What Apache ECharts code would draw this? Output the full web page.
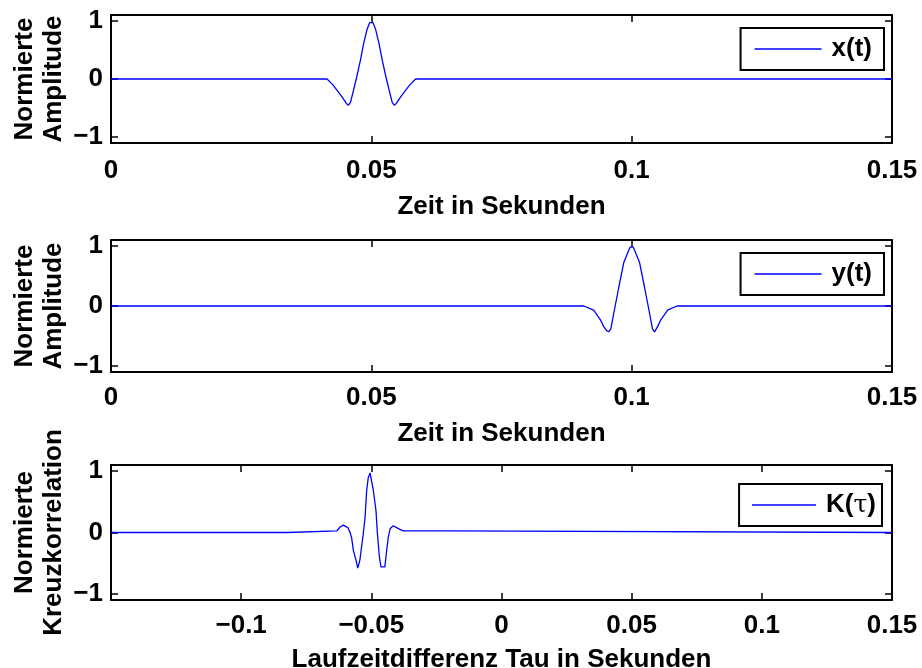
<!DOCTYPE html>
<html>
<head>
<meta charset="utf-8">
<script src="https://cdn.jsdelivr.net/npm/echarts@6/dist/echarts.min.js"></script>
<style>html,body{margin:0;padding:0;background:#fff;}#c{width:922px;height:668px;}</style>
</head>
<body>
<div id="c"></div>
<script>
// ---- data ----
const xTimes = [0, 0.0415, 0.0427, 0.0444, 0.0452, 0.0456, 0.0460, 0.0465, 0.0471, 0.0479, 0.0485, 0.0492, 0.0497, 0.0500, 0.0503, 0.0508, 0.0515, 0.0521, 0.0529, 0.0535, 0.0540, 0.0544, 0.0548, 0.0556, 0.0573, 0.0585, 0.15];
const xValues = [0, 0, -0.11, -0.31, -0.42, -0.45, -0.40, -0.22, 0, 0.32, 0.60, 0.86, 0.97, 1.0, 0.97, 0.86, 0.60, 0.32, 0, -0.22, -0.40, -0.45, -0.42, -0.31, -0.11, 0, 0];

const yTimes = [0, 0.0908, 0.0927, 0.0940, 0.0946, 0.0952, 0.0956, 0.0960, 0.0965, 0.0975, 0.0985, 0.0994, 0.0997, 0.1000, 0.1003, 0.1006, 0.1015, 0.1025, 0.1035, 0.1040, 0.1044, 0.1050, 0.1056, 0.1069, 0.1087, 0.15];
const yValues = [0, 0, -0.07, -0.23, -0.34, -0.41, -0.43, -0.38, -0.15, 0.30, 0.73, 0.92, 0.98, 1.0, 0.98, 0.92, 0.73, 0.30, -0.15, -0.38, -0.43, -0.34, -0.23, -0.07, 0, 0];

const kLags = [-0.15, -0.0821, -0.0820, -0.0633, -0.0620, -0.0608, -0.0590, -0.0582, -0.0576, -0.0569, -0.0559, -0.0552, -0.0544, -0.0531, -0.0524, -0.0518, -0.0512, -0.0505, -0.0501, -0.0492, -0.0482, -0.0477, -0.0469, -0.0463, -0.0448, -0.0441, -0.0435, -0.0428, -0.0416, -0.0403, -0.0390, -0.0377, -0.0199, -0.0198, 0.15];
const kValues = [0, 0, 0.025, 0.025, 0.09, 0.12, 0.08, 0.0, -0.08, -0.29, -0.45, -0.58, -0.45, -0.02, 0.25, 0.68, 0.89, 0.97, 1.0, 0.68, 0.35, 0.0, -0.40, -0.56, -0.56, -0.29, -0.08, 0.06, 0.11, 0.08, 0.05, 0.025, 0.025, 0, 0];

const timeTicks = [0, 0.05, 0.1, 0.15];
const lagTicks = [-0.15, -0.1, -0.05, 0, 0.05, 0.1, 0.15];
const lagLabels = [-0.1, -0.05, 0, 0.05, 0.1, 0.15];
const ampTicks = [-1, 0, 1];
const seriesNames = ['x(t)', 'y(t)', 'K(\u03c4)'];
const xAxisNames = ['Zeit in Sekunden', 'Zeit in Sekunden', 'Laufzeitdifferenz Tau in Sekunden'];
const yAxisNames = ['Normierte\nAmplitude', 'Normierte\nAmplitude', 'Normierte\nKreuzkorrelation'];

// ---- layout ----
const FONT = '"Liberation Sans", Arial, Helvetica, sans-serif';
const FS = 26;
const grids = [
  {left: 111, right: 30, top: 15, height: 128, outerBoundsMode: 'none', containLabel: false},
  {left: 111, right: 30, top: 240, height: 132, outerBoundsMode: 'none', containLabel: false},
  {left: 111, right: 30, top: 465, height: 135, outerBoundsMode: 'none', containLabel: false}
];
const legendTops = [28, 253, 484];
const legendRights = [38, 38, 40];
const legendItemWidths = [67, 67, 64];
const legendPads = [[8, 12, 8, 14], [8, 12, 8, 14], [8, 6, 8, 13]];
const xLabelMargins = [15, 13, 13];
const xNameGaps = [51, 49, 47];
const fmt = v => String(+(+v).toFixed(4)).replace('-', '\u2212');

const xAxes = [], yAxes = [], series = [], legends = [];
const ranges = [[0, 0.15, timeTicks, timeTicks], [0, 0.15, timeTicks, timeTicks], [-0.15, 0.15, lagTicks, lagLabels]];
const datas = [[xTimes, xValues], [yTimes, yValues], [kLags, kValues]];

for (let i = 0; i < 3; i++) {
  const [mn, mx, ticks, labels] = ranges[i];
  const lineSt = {color: '#000', width: 2};
  const tickSt = {color: '#000', width: 1.5};
  xAxes.push({
    type: 'value', gridIndex: i, min: mn, max: mx, position: 'bottom',
    axisLine: {show: true, onZero: false, lineStyle: lineSt},
    axisTick: {show: true, inside: true, length: 7, customValues: ticks, lineStyle: tickSt},
    axisLabel: {customValues: labels, formatter: fmt, color: '#000', fontSize: FS, fontWeight: 'bold', fontFamily: FONT, margin: xLabelMargins[i]},
    splitLine: {show: false},
    name: xAxisNames[i], nameLocation: 'middle', nameGap: xNameGaps[i], nameMoveOverlap: false,
    nameTextStyle: {color: '#000', fontSize: FS, fontWeight: 'bold', fontFamily: FONT}
  });
  xAxes.push({
    type: 'value', gridIndex: i, min: mn, max: mx, position: 'top',
    axisLine: {show: true, onZero: false, lineStyle: lineSt},
    axisTick: {show: true, inside: true, length: 7, customValues: ticks, lineStyle: tickSt},
    axisLabel: {show: false}, splitLine: {show: false}
  });
  yAxes.push({
    type: 'value', gridIndex: i, min: -1.1, max: 1.1, position: 'left',
    axisLine: {show: true, onZero: false, lineStyle: lineSt},
    axisTick: {show: true, inside: true, length: 7, customValues: ampTicks, lineStyle: tickSt},
    axisLabel: {customValues: ampTicks, formatter: fmt, color: '#000', fontSize: FS, fontWeight: 'bold', fontFamily: FONT, margin: 8},
    splitLine: {show: false},
    name: yAxisNames[i], nameLocation: 'middle', nameGap: 43, nameRotate: 90, nameMoveOverlap: false,
    nameTextStyle: {color: '#000', fontSize: FS, fontWeight: 'bold', fontFamily: FONT, lineHeight: 29}
  });
  yAxes.push({
    type: 'value', gridIndex: i, min: -1.1, max: 1.1, position: 'right',
    axisLine: {show: true, onZero: false, lineStyle: lineSt},
    axisTick: {show: true, inside: true, length: 7, customValues: ampTicks, lineStyle: tickSt},
    axisLabel: {show: false}, splitLine: {show: false}
  });
  const [ts, vs] = datas[i];
  series.push({
    name: seriesNames[i], type: 'line', xAxisIndex: 2 * i, yAxisIndex: 2 * i,
    data: ts.map((t, k) => [t, vs[k]]),
    symbol: 'none', color: '#0000ff', lineStyle: {color: '#0000ff', width: 1.3},
    animation: false, clip: true
  });
  legends.push({
    data: [seriesNames[i]], right: legendRights[i], top: legendTops[i],
    icon: 'rect', itemWidth: legendItemWidths[i], itemHeight: 1.5,
    itemStyle: {color: '#0000ff'},
    padding: legendPads[i],
    borderColor: '#000', borderWidth: 2, backgroundColor: '#fff', borderRadius: 0,
    selectedMode: false,
    formatter: n => n.replace('\u03c4', '{tau|\u03c4}'),
    textStyle: {color: '#000', fontSize: FS, fontWeight: 'bold', fontFamily: FONT, padding: [0, 0, 0, 5],
      rich: {tau: {fontFamily: '"DejaVu Serif", serif', fontSize: 25, fontWeight: 'normal', color: '#000'}}}
  });
}

const chart = echarts.init(document.getElementById('c'), null, {renderer: 'canvas'});
chart.setOption({
  animation: false,
  backgroundColor: '#fff',
  grid: grids,
  xAxis: xAxes,
  yAxis: yAxes,
  legend: legends,
  series: series
});
</script>
</body>
</html>
